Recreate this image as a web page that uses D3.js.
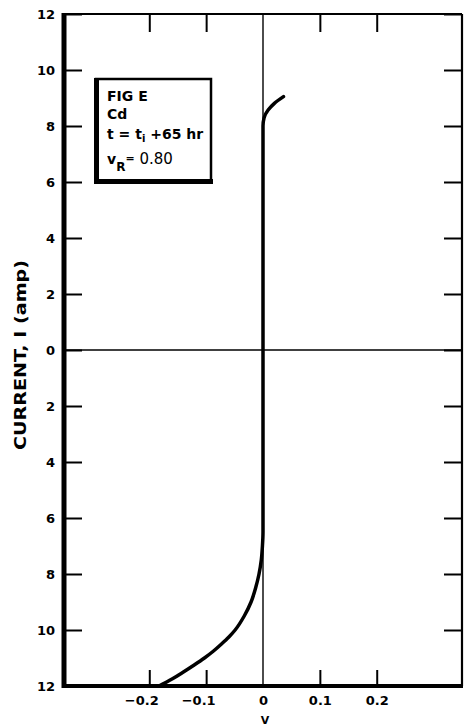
<!DOCTYPE html>
<html>
<head>
<meta charset="utf-8">
<script src="https://cdn.jsdelivr.net/npm/d3@7/dist/d3.min.js"></script>
<style>
  html, body { margin: 0; padding: 0; background: #fff; }
  svg { display: block; }
  text { font-family: "DejaVu Sans", "Liberation Sans", sans-serif; font-weight: bold; fill: #000; }
</style>
</head>
<body>
<svg id="chart" width="464" height="727"></svg>
<script>
// ---- data ----
const yTickValues = [-12, -10, -8, -6, -4, -2, 0, 2, 4, 6, 8, 10, 12];
const xTickValues = [-0.2, -0.1, 0, 0.1, 0.2];
const xTopTickValues = [-0.2, -0.1, 0.1, 0.2];
// I-V trace (V in volts, I in amp), ordered by current
const traceV = [-0.183, -0.160, -0.140, -0.121, -0.103, -0.087, -0.073, -0.060, -0.049, -0.033, -0.021, -0.013, -0.007, -0.003, -0.001, 0, 0, 0, 0.002, 0.009, 0.02, 0.036];
const traceI = [-12, -11.75, -11.5, -11.25, -11.0, -10.75, -10.5, -10.25, -10.0, -9.5, -9.0, -8.5, -8.0, -7.5, -7.0, -6.5, 0, 8.0, 8.3, 8.57, 8.81, 9.05];
const legendLines = ["FIG E", "Cd"];
const yTitle = "CURRENT, I (amp)";
const xTitle = "V";

// ---- layout ----
const pL = 64, pR = 462, pT = 14, pB = 686;
const svg = d3.select("#chart");

const x = d3.scaleLinear().domain([-0.35, 0.35]).range([pL, pR]);
const y = d3.scaleLinear().domain([-12, 12]).range([pB, pT]);

// zero lines
svg.append("line").attr("x1", pL).attr("x2", pR).attr("y1", y(0)).attr("y2", y(0))
  .attr("stroke", "#000").attr("stroke-width", 1.4);
svg.append("line").attr("x1", x(0)).attr("x2", x(0)).attr("y1", pT).attr("y2", pB)
  .attr("stroke", "#000").attr("stroke-width", 1.4);

// axes
const fmtAbs = d => Math.abs(d);
const gl = svg.append("g").attr("transform", `translate(${pL},0)`)
  .call(d3.axisLeft(y).tickValues(yTickValues).tickSize(-18).tickPadding(9).tickFormat(fmtAbs));
const gr = svg.append("g").attr("transform", `translate(${pR},0)`)
  .call(d3.axisRight(y).tickValues(yTickValues).tickSize(-18).tickFormat(""));
const gt = svg.append("g").attr("transform", `translate(0,${pT})`)
  .call(d3.axisTop(x).tickValues(xTopTickValues).tickSize(-18).tickFormat(""));
const gb = svg.append("g").attr("transform", `translate(0,${pB})`)
  .call(d3.axisBottom(x).tickValues(xTickValues).tickSize(-16).tickPadding(10)
    .tickFormat(d => d === 0 ? "0" : (d < 0 ? "\u2212" + Math.abs(d) : String(d))));

[gl, gr, gt, gb].forEach(g => {
  g.select(".domain").remove();
  g.selectAll(".tick line").attr("stroke", "#000").attr("stroke-width", 2);
  g.selectAll("text").attr("font-size", 13).attr("font-family", "DejaVu Sans, sans-serif")
    .attr("font-weight", "bold").attr("fill", "#000");
});
gb.selectAll(".tick text").filter(d => d < 0).attr("text-anchor", "end").attr("x", 9);
gb.selectAll(".tick").filter(d => d === 0).select("line").remove();

// frame
const frame = [
  { x1: pL, y1: pT, x2: pR, y2: pT, w: 2.2 },
  { x1: pR, y1: pT, x2: pR, y2: pB, w: 2.2 },
  { x1: pL, y1: pT - 1, x2: pL, y2: pB + 2, w: 5 },
  { x1: pL - 2, y1: pB, x2: pR + 1, y2: pB, w: 4 }
];
svg.selectAll("line.frame").data(frame).enter().append("line").attr("class", "frame")
  .attr("x1", d => d.x1).attr("y1", d => d.y1).attr("x2", d => d.x2).attr("y2", d => d.y2)
  .attr("stroke", "#000").attr("stroke-width", d => d.w);

// trace
const pts = traceV.map((v, i) => [v, traceI[i]]);
svg.append("path").datum(pts)
  .attr("d", d3.line().x(d => x(d[0])).y(d => y(d[1])).curve(d3.curveMonotoneY))
  .attr("fill", "none").attr("stroke", "#000").attr("stroke-width", 3.5).attr("stroke-linecap", "round");

// titles
svg.append("text").attr("transform", "translate(26,355) rotate(-90)")
  .attr("text-anchor", "middle").attr("font-size", 16)
  .attr("textLength", 190).attr("lengthAdjust", "spacingAndGlyphs").text(yTitle);
svg.append("text").attr("x", x(0) + 2).attr("y", 724).attr("text-anchor", "middle")
  .attr("font-size", 11).text(xTitle);

// legend box
const box = svg.append("g");
box.append("rect").attr("x", 96).attr("y", 79).attr("width", 115).attr("height", 102)
  .attr("fill", "#fff").attr("stroke", "#000").attr("stroke-width", 2.5);
box.append("line").attr("x1", 96.5).attr("x2", 96.5).attr("y1", 78).attr("y2", 184).attr("stroke", "#000").attr("stroke-width", 5);
box.append("line").attr("x1", 94).attr("x2", 213).attr("y1", 181.5).attr("y2", 181.5).attr("stroke", "#000").attr("stroke-width", 5);

box.append("text").attr("x", 107).attr("y", 101).attr("font-size", 14).text(legendLines[0]);
box.append("text").attr("x", 107).attr("y", 119).attr("font-size", 14).text(legendLines[1]);
const t3 = box.append("text").attr("x", 107).attr("y", 139).attr("font-size", 14);
t3.append("tspan").text("t = t");
t3.append("tspan").attr("font-size", 10).attr("dy", 3).text("i");
t3.append("tspan").attr("dy", -3).text(" +65 hr");
const t4 = box.append("text").attr("x", 107).attr("y", 164).attr("font-size", 14);
t4.append("tspan").text("v");
t4.append("tspan").attr("font-size", 12).attr("dy", 7).text("R");
t4.append("tspan").attr("font-size", 11).attr("dy", -9).text("=");
t4.append("tspan").attr("dy", 2).attr("font-weight", "normal").attr("font-size", 15).text(" 0.80");
</script>
</body>
</html>
